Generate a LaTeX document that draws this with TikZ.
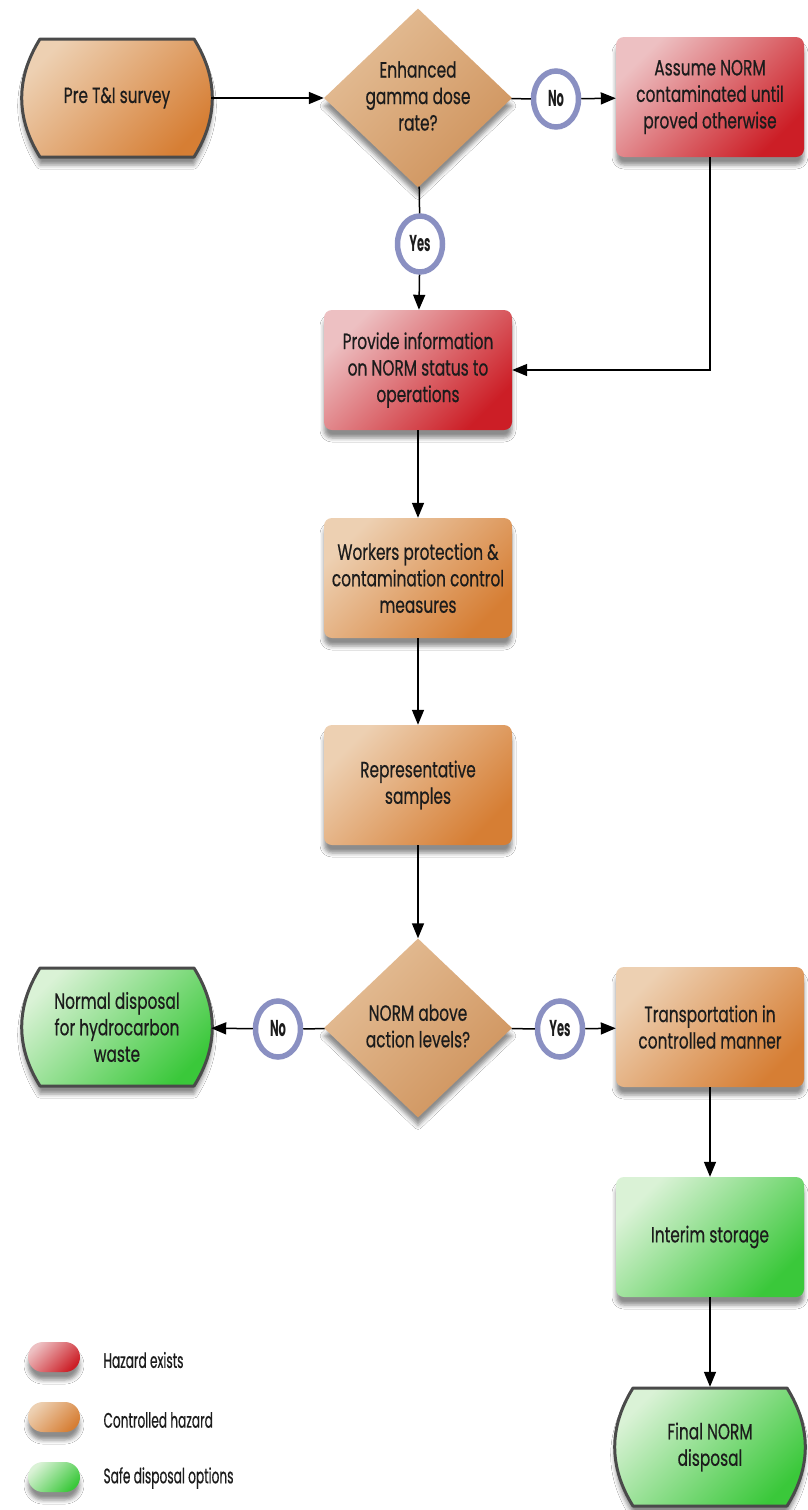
\documentclass[tikz,border=0pt]{standalone}
\usepackage{fontspec}
\setmainfont{Poppins}[FakeStretch=0.7,FakeBold=0.5]
\newfontfamily\ringfont{Poppins}[FakeStretch=0.5]
\newfontfamily\legfont{Poppins}[FakeStretch=0.58,FakeBold=0.5]
\usetikzlibrary{shapes.geometric,shapes.misc,arrows.meta,shadows.blur}
\definecolor{orL}{HTML}{EDD0B2}
\definecolor{orD}{HTML}{D67E34}
\definecolor{rdL}{HTML}{EDC0C2}
\definecolor{rdD}{HTML}{CC1E26}
\definecolor{grL}{HTML}{DAF2D6}
\definecolor{grD}{HTML}{3AC83A}
\definecolor{tanL}{HTML}{E4BE97}
\definecolor{tanD}{HTML}{CF935C}
\definecolor{ringc}{HTML}{8A90C2}
\definecolor{edgec}{HTML}{4A4A4A}
\definecolor{txt}{HTML}{1C1C1C}
\tikzset{
  shad/.style={blur shadow={shadow xshift=0pt,shadow yshift=-8pt,shadow blur radius=4pt,shadow opacity=45}},
  txtf/.style={font=\fontsize{22}{26.5}\selectfont, text=txt, align=center},
  box/.style={rectangle, rounded corners=8pt, minimum width=188pt, minimum height=120pt, inner sep=0pt, txtf, shad},
  term/.style={rectangle, minimum width=188pt, minimum height=120pt, inner sep=0pt, txtf},
  termedge/.style={draw=edgec, line width=3pt, line join=round, shad},
  orange/.style={top color=orL, bottom color=orD, shading angle=45},
  red/.style={top color=rdL, bottom color=rdD, shading angle=45},
  green/.style={top color=grL, bottom color=grD, shading angle=45},
  dia/.style={diamond, minimum width=188pt, minimum height=179pt, inner sep=0pt, top color=tanL, bottom color=tanD, shading angle=45, shad},
  ringn/.style={ellipse, draw=ringc, line width=5.5pt, fill=white, minimum width=45pt, minimum height=56pt, inner sep=0pt, text=txt, font=\ringfont\bfseries\fontsize{23}{23}\selectfont},
  pill/.style={rounded rectangle, minimum width=52pt, minimum height=30pt, inner sep=0pt, shad},
  legt/.style={font=\legfont\fontsize{21}{24}\selectfont, text=txt, anchor=west},
  con/.style={line width=1.5pt, draw=black},
  arr/.style={con, -{Triangle[length=15pt,width=12pt]}}
}
% terminal outline: centre x, centre y, fill style
\newcommand\termbg[3]{%
  \path[termedge, #3] (#1-77,#2-59) -- (#1+77,#2-59)
    to[bend left=32] (#1+77,#2+59) -- (#1-77,#2+59)
    to[bend left=32] cycle;}
\begin{document}
\begin{tikzpicture}[x=1pt,y=-1pt]
\fill[white] (0,0) rectangle (808,1510);
\useasboundingbox (0,0) rectangle (808,1510);
% row 1
\termbg{117}{98}{orange}
\node[term] (pre) at (117,98) {Pre T\&I survey};
\node[dia] (d1) at (418,98) {};
\node[txtf] (d1t) at (418,96) {Enhanced\\gamma dose\\rate?};
\node[box, red] (assume) at (710,97) {Assume NORM\\contaminated until\\proved otherwise};
\node[ringn] (no1) at (556,99) {No};
\node[ringn] (yes1) at (420,244) {Yes};
% column
\node[box, red] (prov) at (418,370) {Provide information\\on NORM status to\\operations};
\node[box, orange] (work) at (418,578) {Workers protection \&\\contamination control\\measures};
\node[box, orange] (rep) at (418,785) {Representative\\samples};
% row 2
\node[dia] (d2) at (418,1028) {};
\node[txtf] (d2t) at (418,1026) {NORM above\\action levels?};
\termbg{117}{1027}{green}
\node[term] (normal) at (117,1027) {Normal disposal\\for hydrocarbon\\waste};
\node[ringn] (no2) at (278,1029) {No};
\node[ringn] (yes2) at (560,1029) {Yes};
\node[box, orange] (trans) at (710,1027) {Transportation in\\controlled manner};
\node[box, green] (interim) at (710,1237) {Interim storage};
\termbg{710}{1447}{green}
\node[term] (final) at (710,1447) {Final NORM\\disposal};
% legend
\node[pill, red] (lg1) at (54,1357) {};
\node[pill, orange] (lg2) at (54,1417) {};
\node[pill, green] (lg3) at (54,1477) {};
\node[legt] (lt1) at (100,1360) {Hazard exists};
\node[legt] (lt2) at (100,1420) {Controlled hazard};
\node[legt] (lt3) at (100,1478) {Safe disposal options};
% connectors
\draw[arr] (pre) -- (d1);
\draw[con] (d1) -- (no1);
\draw[arr] (no1) -- (assume);
\draw[con] (d1) -- (yes1);
\draw[arr] (yes1) -- (prov);
\draw[arr] (assume.south) |- (prov.east);
\draw[arr] (prov) -- (work);
\draw[arr] (work) -- (rep);
\draw[arr] (rep) -- (d2);
\draw[con] (d2) -- (no2);
\draw[arr] (no2) -- (normal);
\draw[con] (d2) -- (yes2);
\draw[arr] (yes2) -- (trans);
\draw[arr] (trans) -- (interim);
\draw[arr] (interim) -- (final);
\end{tikzpicture}
\end{document}
